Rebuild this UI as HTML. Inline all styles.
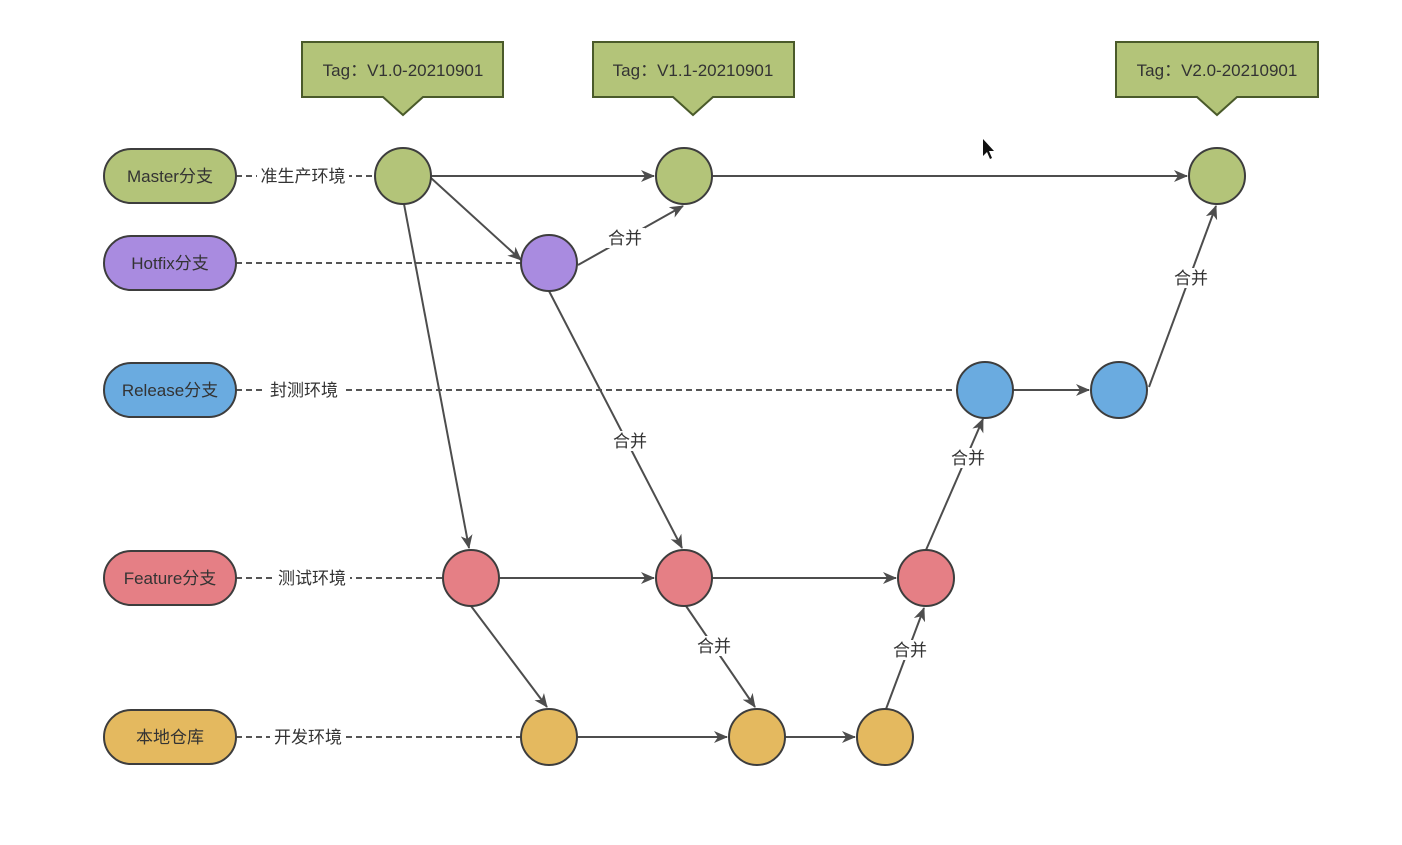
<!DOCTYPE html>
<html><head><meta charset="utf-8"><style>
body{margin:0;background:#fff;}
svg{display:block;font-family:"Liberation Sans","Noto Sans CJK SC",sans-serif;}
</style></head><body>
<svg width="1402" height="845" viewBox="0 0 1402 845" xmlns="http://www.w3.org/2000/svg">
<defs>
<marker id="a" markerWidth="14" markerHeight="12" refX="13" refY="6" orient="auto" markerUnits="userSpaceOnUse">
<path d="M0,0 L14,6 L0,12 L4,6 z" fill="#4d4d4d"/></marker>
</defs>
<rect width="1402" height="845" fill="#fff"/>
<g fill="#b3c479" stroke="#4a5a2a" stroke-width="2">
<path d="M302,42 H503 V97 H423 L403,115 L383,97 H302 Z"/>
<path d="M593,42 H794 V97 H713 L693,115 L673,97 H593 Z"/>
<path d="M1116,42 H1318 V97 H1237 L1217,115 L1197,97 H1116 Z"/>
</g>
<g font-size="17" fill="#333" text-anchor="middle">
<text x="403" y="76">Tag：V1.0-20210901</text>
<text x="693" y="76">Tag：V1.1-20210901</text>
<text x="1217" y="76">Tag：V2.0-20210901</text>
</g>
<g stroke="#555" stroke-width="2" stroke-dasharray="6,4" fill="none">
<line x1="236" y1="176" x2="375" y2="176"/>
<line x1="236" y1="263" x2="521" y2="263"/>
<line x1="236" y1="390" x2="957" y2="390"/>
<line x1="236" y1="578" x2="443" y2="578"/>
<line x1="236" y1="737" x2="521" y2="737"/>
</g>
<g fill="#fff"><rect x="257" y="164" width="92" height="24"/><rect x="266" y="378" width="76" height="24"/><rect x="274" y="566" width="76" height="24"/><rect x="270" y="725" width="76" height="24"/></g>
<g font-size="17" fill="#333" text-anchor="middle">
<text x="303" y="182">准生产环境</text>
<text x="304" y="396">封测环境</text>
<text x="312" y="584">测试环境</text>
<text x="308" y="743">开发环境</text>
</g>
<g stroke="#4d4d4d" stroke-width="2" fill="none" marker-end="url(#a)">
<line x1="431" y1="176" x2="654" y2="176"/>
<line x1="431" y1="178" x2="521" y2="260"/>
<line x1="404" y1="204" x2="469" y2="548"/>
<line x1="578" y1="265" x2="683" y2="206"/>
<line x1="549" y1="291" x2="682" y2="548"/>
<line x1="712" y1="176" x2="1187" y2="176"/>
<line x1="1013" y1="390" x2="1089" y2="390"/>
<line x1="1149" y1="387" x2="1216" y2="206"/>
<line x1="499" y1="578" x2="654" y2="578"/>
<line x1="712" y1="578" x2="896" y2="578"/>
<line x1="926" y1="550" x2="983" y2="419"/>
<line x1="471" y1="606" x2="547" y2="707"/>
<line x1="686" y1="606" x2="755" y2="707"/>
<line x1="577" y1="737" x2="727" y2="737"/>
<line x1="785" y1="737" x2="855" y2="737"/>
<line x1="886" y1="709" x2="924" y2="608"/>
</g>
<g fill="#fff"><rect x="605" y="228" width="40" height="20"/><rect x="610" y="431" width="40" height="20"/><rect x="1171" y="268" width="40" height="20"/><rect x="948" y="448" width="40" height="20"/><rect x="694" y="636" width="40" height="20"/><rect x="890" y="640" width="40" height="20"/></g>
<g font-size="17" fill="#333" text-anchor="middle">
<text x="625" y="244">合并</text>
<text x="630" y="447">合并</text>
<text x="1191" y="284">合并</text>
<text x="968" y="464">合并</text>
<text x="714" y="652">合并</text>
<text x="910" y="656">合并</text>
</g>
<g stroke="#3d3d3d" stroke-width="2">
<rect x="104" y="149" width="132" height="54" rx="27" fill="#b3c479"/>
<rect x="104" y="236" width="132" height="54" rx="27" fill="#a98be0"/>
<rect x="104" y="363" width="132" height="54" rx="27" fill="#6aabe0"/>
<rect x="104" y="551" width="132" height="54" rx="27" fill="#e57f85"/>
<rect x="104" y="710" width="132" height="54" rx="27" fill="#e4b95f"/>
</g>
<g font-size="17" fill="#333" text-anchor="middle">
<text x="170" y="182">Master分支</text>
<text x="170" y="269">Hotfix分支</text>
<text x="170" y="396">Release分支</text>
<text x="170" y="584">Feature分支</text>
<text x="170" y="743">本地仓库</text>
</g>
<g stroke="#3d3d3d" stroke-width="2">
<g fill="#b3c479"><circle cx="403" cy="176" r="28"/><circle cx="684" cy="176" r="28"/><circle cx="1217" cy="176" r="28"/></g>
<circle cx="549" cy="263" r="28" fill="#a98be0"/>
<g fill="#6aabe0"><circle cx="985" cy="390" r="28"/><circle cx="1119" cy="390" r="28"/></g>
<g fill="#e57f85"><circle cx="471" cy="578" r="28"/><circle cx="684" cy="578" r="28"/><circle cx="926" cy="578" r="28"/></g>
<g fill="#e4b95f"><circle cx="549" cy="737" r="28"/><circle cx="757" cy="737" r="28"/><circle cx="885" cy="737" r="28"/></g>
</g>
<path d="M983,139 L983,156 L987,152 L990,159 L992,158 L989,151 L994,151 Z" fill="#111"/>
</svg>
</body></html>
